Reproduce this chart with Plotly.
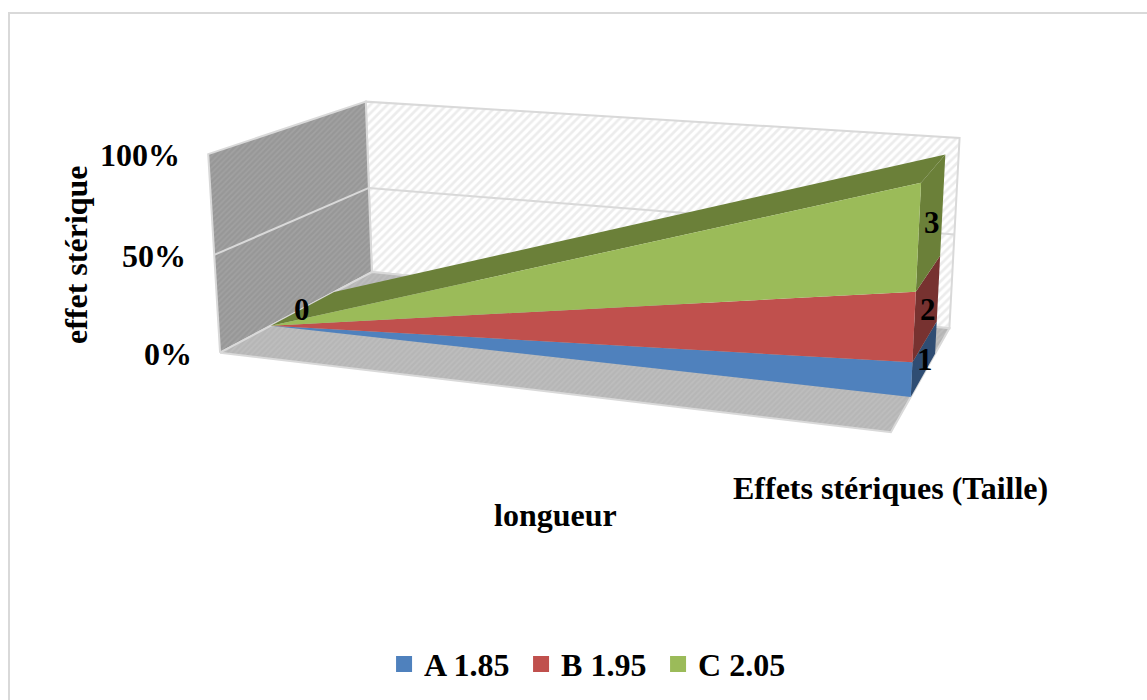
import numpy as np
import plotly.graph_objects as go

# Data
categories = ["0", "1"]
series_names = ["A 1.85", "B 1.95", "C 2.05"]
serie_a = [0, 1]
serie_b = [0, 2]
serie_c = [0, 3]
tick_values = [0, 0.5, 1.0]
tick_labels = ["0%", "50%", "100%"]
point_labels = ["0", "1", "2", "3"]
colors = ["#4f81bd", "#c0504d", "#9bbb59"]
side_colors = ["#2f4d73", "#773230", "#6b8039"]
FONT = "Liberation Serif"
TXT = "#000000"

# Depth of the area ribbon inside the cube
zf, zb = 0.30, 0.72

# Camera calibration: unit cube (length, share, depth) to picture position
cube = [(0,0,0),(1,0,0),(0,1,0),(0,0,1),(1,0,1),(0,1,1),(1,1,1),
        (1,1,zf),(1,1,zb),(1,0,zf),(0,0,zf),(0,0,zb)]
pict = [(220,352),(891,433),(208,153),(372,272),(950,327),(366,102),(960,137),
        (922,183),(944,156),(910,397),(272,326),(333,293)]
A, b = [], []
for (X,Y,Z),(u,v) in zip(cube,pict):
    A.append([X,Y,Z,1,0,0,0,0,-u*X,-u*Y,-u*Z]); b.append(u)
    A.append([0,0,0,0,X,Y,Z,1,-v*X,-v*Y,-v*Z]); b.append(v)
p = np.linalg.lstsq(np.array(A,float),np.array(b,float),rcond=None)[0]

def proj(X,Y,Z):
    w = p[8]*X+p[9]*Y+p[10]*Z+1
    return (p[0]*X+p[1]*Y+p[2]*Z+p[3])/w, (p[4]*X+p[5]*Y+p[6]*Z+p[7])/w

fig = go.Figure()

def poly(points, color, pattern=None, line=None, lw=0):
    xs, ys = zip(*[proj(*q) for q in points])
    kw = {}
    if pattern:
        kw["fillpattern"] = pattern
    fig.add_trace(go.Scatter(x=list(xs)+[xs[0]], y=list(ys)+[ys[0]], mode="lines", fill="toself",
        fillcolor=color, line=dict(color=line or color, width=lw), hoverinfo="skip",
        showlegend=False, **kw))

def seg(a, b_, color="#d9d9d9", lw=2):
    x0,y0 = proj(*a); x1,y1 = proj(*b_)
    fig.add_trace(go.Scatter(x=[x0,x1], y=[y0,y1], mode="lines", line=dict(color=color,width=lw),
        hoverinfo="skip", showlegend=False))

# Walls and floor
WALL = "#d9d9d9"
poly([(0,0,1),(1,0,1),(1,1,1),(0,1,1)], "#ffffff",
     dict(shape="/", fgcolor="#dadada", bgcolor="#ffffff", size=6, solidity=0.45), WALL, 2)
poly([(0,0,0),(0,0,1),(0,1,1),(0,1,0)], "#a0a0a0",
     dict(shape="/", fgcolor="#adadad", bgcolor="#979797", size=4, solidity=0.4), WALL, 2)
poly([(0,0,0),(1,0,0),(1,0,1),(0,0,1)], "#bdbdbd",
     dict(shape="/", fgcolor="#c6c6c6", bgcolor="#b6b6b6", size=4, solidity=0.4), WALL, 2)
seg((0,.5,0),(0,.5,1))
seg((0,.5,1),(1,.5,1))

# Stacked 100% areas
stack = np.array([serie_a, serie_b, serie_c], float)
total = stack.sum(axis=0)
share = np.divide(stack, total, out=np.zeros_like(stack), where=total > 0)
cum = np.vstack([np.zeros(2), np.cumsum(share, axis=0)])

# top band of the last series
poly([(0,cum[3,0],zf),(0,cum[3,0],zb),(1,cum[3,1],zb),(1,cum[3,1],zf)], side_colors[2])
# end faces
for i in range(3):
    poly([(1,cum[i,1],zf),(1,cum[i,1],zb),(1,cum[i+1,1],zb),(1,cum[i+1,1],zf)], side_colors[i])
# front faces
for i in range(3):
    poly([(0,cum[i,0],zf),(1,cum[i,1],zf),(1,cum[i+1,1],zf),(0,cum[i+1,0],zf)], colors[i])

# Legend
for name, col in zip(series_names, colors):
    fig.add_trace(go.Scatter(x=[None], y=[None], mode="markers", name=name,
        marker=dict(symbol="square", size=16, color=col), hoverinfo="skip"))

def note(x, y, text, size=32, **kw):
    fig.add_annotation(x=x, y=y, text=f"<b>{text}</b>", showarrow=False,
        font=dict(family=FONT, size=size, color=TXT), **kw)

# Point labels
zm = (zf+zb)/2
lx, ly = proj(0,0,zm)
note(lx-2, ly+1, point_labels[0], size=31)
for i in range(3):
    lx, ly = proj(1,(cum[i,1]+cum[i+1,1])/2,zm)
    note(lx+1, ly+2, point_labels[i+1], size=31)

# Tick labels
for v, t in zip(tick_values, tick_labels):
    tx, ty = proj(0, v, 0)
    note(tx-26, ty+1, t, xanchor="right")

note(76, 255, "effet stérique", textangle=-90)
note(555, 515, "longueur")
note(890, 488, "Effets stériques (Taille)")

fig.add_shape(type="rect", x0=9, y0=13, x1=1160, y1=720, line=dict(color="#d9d9d9", width=2), layer="below")

fig.update_layout(
    width=1147, height=700, margin=dict(l=0,r=0,t=0,b=0),
    plot_bgcolor="#ffffff", paper_bgcolor="#ffffff",
    xaxis=dict(range=[0,1147], visible=False, fixedrange=True),
    yaxis=dict(range=[700,0], visible=False, fixedrange=True),
    legend=dict(orientation="h", x=0.514, xanchor="center", y=0.012, yanchor="bottom",
                font=dict(family=FONT, size=32, color=TXT, weight="bold"),
                bgcolor="rgba(0,0,0,0)", itemwidth=30, entrywidth=92, entrywidthmode="pixels"),
    showlegend=True,
)
fig.write_html("out.html", config={"displayModeBar": False},
               post_script="document.body.style.margin='0';document.body.style.overflow='hidden';")
